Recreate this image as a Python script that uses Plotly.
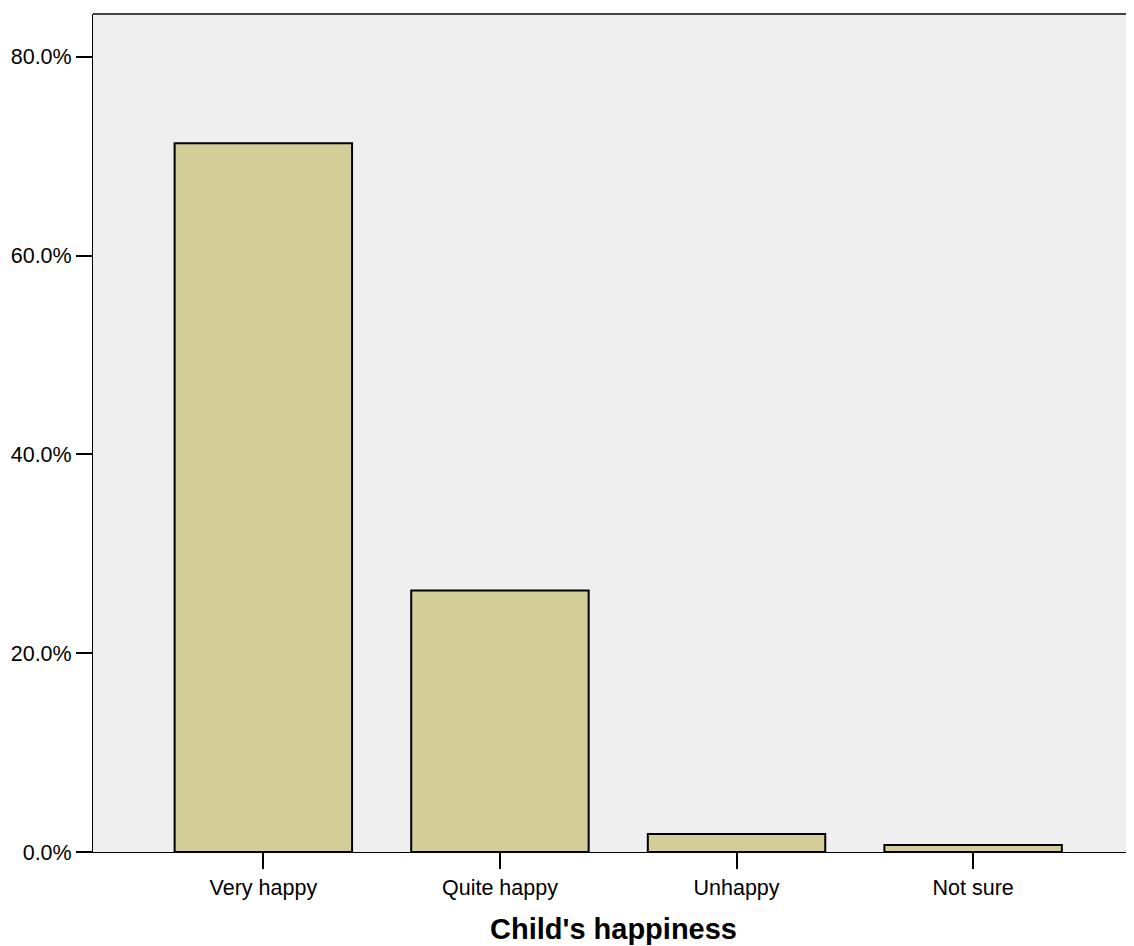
import plotly.graph_objects as go

categories = ["Very happy", "Quite happy", "Unhappy", "Not sure"]
percent_values = [71.3, 26.3, 1.8, 0.7]
y_tick_values = [0, 20, 40, 60, 80]
y_tick_labels = ["0.0%", "20.0%", "40.0%", "60.0%", "80.0%"]
x_title = "Child's happiness"

FONT = "Liberation Sans, Arial, sans-serif"

fig = go.Figure()
fig.add_trace(go.Bar(
    x=categories,
    y=percent_values,
    width=0.75,
    marker=dict(color="#D3CE98", line=dict(color="#000000", width=2)),
    showlegend=False,
    hoverinfo="x+y",
))

fig.update_layout(
    width=1126,
    height=938,
    margin=dict(l=85, r=0, t=6, b=94, pad=0),
    paper_bgcolor="#FFFFFF",
    plot_bgcolor="#EFEFEF",
    font=dict(family=FONT, size=21.5, color="#000000"),
    xaxis=dict(
        type="category",
        range=[-0.72, 3.68],
        showgrid=False,
        zeroline=False,
        showline=True,
        linecolor="#000000",
        linewidth=1,
        ticks="outside",
        ticklen=16,
        tickwidth=2,
        tickcolor="#000000",
        tickfont=dict(family=FONT, size=21.5, color="#000000"),
    ),
    yaxis=dict(
        range=[0, 84.3],
        showgrid=False,
        zeroline=False,
        showline=True,
        linecolor="#000000",
        linewidth=1,
        ticks="outside",
        ticklen=16,
        tickwidth=2,
        tickcolor="#000000",
        tickvals=y_tick_values,
        ticktext=y_tick_labels,
        tickfont=dict(family=FONT, size=21.5, color="#000000"),
    ),
    shapes=[dict(
        type="line", xref="paper", yref="paper",
        x0=0, x1=1, y0=1, y1=1,
        line=dict(color="#444444", width=2),
    )],
    annotations=[dict(
        text="<b>" + x_title + "</b>",
        xref="paper", yref="paper",
        x=0.50, y=-0.092,
        xanchor="center", yanchor="middle",
        showarrow=False,
        font=dict(family=FONT, size=29, color="#000000"),
    )],
)

fig.write_html("out.html")
